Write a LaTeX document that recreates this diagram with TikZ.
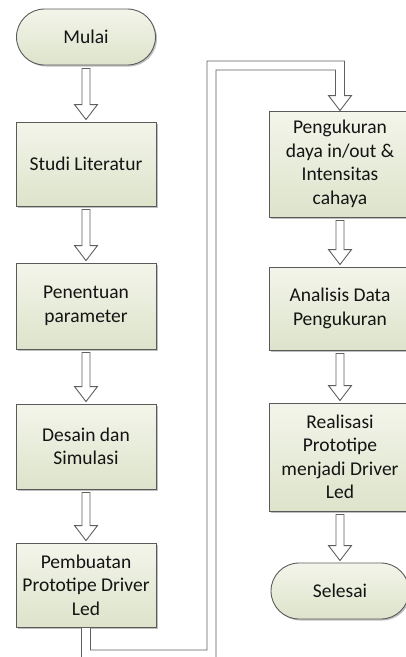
\documentclass[tikz,border=0pt]{standalone}
\usepackage{fontspec}
\setmainfont{Carlito}
\usetikzlibrary{shapes.misc,shadows,calc}
\definecolor{boxtop}{RGB}{243,245,234}
\definecolor{boxbot}{RGB}{221,227,203}
\definecolor{boxline}{RGB}{90,90,90}
\definecolor{arrline}{RGB}{95,95,95}
\definecolor{txt}{RGB}{20,20,20}
\newcommand{\flowarrow}[2]{%
  \draw[blockarr] let \p1=($(#1.south)+(0,3)$), \p2=($(#2.north)+(0,-2)$) in
    ({\x1-4pt},\y1) -- ({\x1-4pt},{\y2+15pt}) -- ({\x1-11.5pt},{\y2+15pt}) -- (\x1,\y2)
    -- ({\x1+11.5pt},{\y2+15pt}) -- ({\x1+4pt},{\y2+15pt}) -- ({\x1+4pt},\y1) -- cycle;}
\begin{document}
\begin{tikzpicture}[x=1pt,y=-1pt,
  procbox/.style={rectangle,draw=boxline,line width=0.9pt,top color=boxtop,bottom color=boxbot,
    text=txt,align=center,font=\fontsize{19.5}{23.5}\selectfont,minimum width=140pt,inner sep=2pt,
    drop shadow={shadow xshift=1.5pt,shadow yshift=-1.5pt,opacity=0.25,fill=black}},
  termbox/.style={procbox,rounded rectangle,rounded rectangle arc length=180},
  blockarr/.style={draw=arrline,fill=white,line width=0.9pt,line join=miter}]
\useasboundingbox (0,0) rectangle (406,657);
\clip (0,0) rectangle (406,657);
% left column
\node[termbox,minimum width=143pt,minimum height=56pt] (mulai) at (86,37) {Mulai};
\node[procbox,minimum height=84pt] (studi) at (86,164) {Studi Literatur};
\node[procbox,minimum height=86pt] (penentuan) at (86,306) {Penentuan\\parameter};
\node[procbox,minimum height=85pt] (desain) at (86,446.5) {Desain dan\\Simulasi};
\node[procbox,minimum height=84pt] (pembuatan) at (86,585) {Pembuatan\\Prototipe Driver\\Led};
% right column
\node[procbox,minimum width=142pt,minimum height=106pt] (pengukuran) at (340,164) {Pengukuran\\daya in/out \&\\Intensitas\\cahaya};
\node[procbox,minimum width=142pt,minimum height=83pt] (analisis) at (340,308.5) {Analisis Data\\Pengukuran};
\node[procbox,minimum width=142pt,minimum height=108pt] (realisasi) at (340,457) {Realisasi\\Prototipe\\menjadi Driver\\Led};
\node[termbox,minimum width=142pt,minimum height=56pt] (selesai) at (340,591) {Selesai};
% straight arrows
\flowarrow{mulai}{studi}
\flowarrow{studi}{penentuan}
\flowarrow{penentuan}{desain}
\flowarrow{desain}{pembuatan}
\flowarrow{pengukuran}{analisis}
\flowarrow{analisis}{realisasi}
\flowarrow{realisasi}{selesai}
% elbow connector
\coordinate (bendA) at (211.5,654.5);
\coordinate (bendB) at (211.5,65.5);
\draw[blockarr] let \p1=(pembuatan.south), \p2=(bendA), \p3=(bendB), \p4=(pengukuran.north) in
  ({\x1-4.5pt},\y1) -- ({\x1-4.5pt},{\y2-4.5pt}) -- ({\x2+4.5pt},{\y2-4.5pt})
  -- ({\x2+4.5pt},{\y3-4.5pt}) -- ({\x4-4.5pt},{\y3-4.5pt}) -- ({\x4-4.5pt},{\y4+15pt})
  -- ({\x4-11.5pt},{\y4+15pt}) -- (\x4,\y4) -- ({\x4+11.5pt},{\y4+15pt}) -- ({\x4+4.5pt},{\y4+15pt})
  -- ({\x4+4.5pt},{\y3+4.5pt}) -- ({\x2-4.5pt},{\y3+4.5pt}) -- ({\x2-4.5pt},{\y2+4.5pt})
  -- ({\x1+4.5pt},{\y2+4.5pt}) -- ({\x1+4.5pt},\y1) -- cycle;
\end{tikzpicture}
\end{document}
